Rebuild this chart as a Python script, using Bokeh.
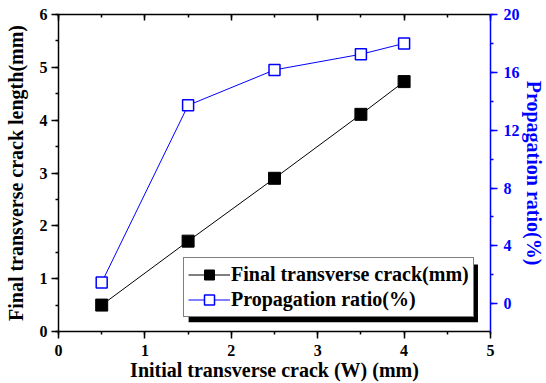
import math
from bokeh.plotting import figure
from bokeh.models import (LinearAxis, Range1d, SingleIntervalTicker, Legend,
                          LegendItem, BoxAnnotation, CustomJSTickFormatter,
                          Title)
from bokeh.embed import file_html
from bokeh.resources import INLINE

# ---- data ----
initial_crack = [0.5, 1.5, 2.5, 3.5, 4.0]
final_crack = [0.50, 1.71, 2.90, 4.11, 4.73]
prop_ratio = [1.47, 13.72, 16.17, 17.25, 18.0]

x_label = "Initial transverse crack (W) (mm)"
y_label = "Final transverse crack length(mm)"
y2_label = "Propagation ratio(%)"
s1_name = "Final transverse crack(mm)"
s2_name = "Propagation ratio(%)"

FONT = "Liberation Serif"
BLUE = "#0000ff"

p = figure(width=546, height=383, x_range=Range1d(0, 5), y_range=Range1d(0, 6),
           output_backend="svg", toolbar_location=None,
           min_border_left=58, min_border_right=56, min_border_top=14,
           min_border_bottom=52)
p.extra_y_ranges = {"right": Range1d(-1.92, 20)}
p.grid.visible = False
p.outline_line_color = None
p.background_fill_color = "white"
p.border_fill_color = "white"


def style_axis(ax, color="black"):
    ax.axis_line_color = color
    ax.axis_line_width = 1.5
    ax.major_tick_line_color = color
    ax.minor_tick_line_color = color
    ax.major_tick_line_width = 1.5
    ax.minor_tick_line_width = 1.5
    ax.major_label_text_font = FONT
    ax.major_label_text_font_style = "bold"
    ax.major_label_text_font_size = "16px"
    ax.major_label_text_color = color
    ax.axis_label_text_font = FONT
    ax.axis_label_text_font_style = "bold"
    ax.axis_label_text_font_size = "20px"
    ax.axis_label_text_color = color
    ax.major_tick_out = 7
    ax.major_tick_in = 0
    ax.minor_tick_out = 3
    ax.minor_tick_in = 0


# bottom axis
xa = p.xaxis[0]
xa.ticker = SingleIntervalTicker(interval=1, num_minor_ticks=2)
style_axis(xa)
xa.axis_label = x_label
xa.major_label_standoff = 6
xa.axis_label_standoff = 0

# left axis
ya = p.yaxis[0]
ya.ticker = SingleIntervalTicker(interval=1, num_minor_ticks=2)
style_axis(ya)
ya.axis_label = y_label
ya.major_label_standoff = 4
ya.axis_label_standoff = 10

# right axis (title drawn as a side Title so that it reads top-to-bottom)
ra = LinearAxis(y_range_name="right",
                ticker=SingleIntervalTicker(interval=4, num_minor_ticks=2))
style_axis(ra, BLUE)
ra.major_label_standoff = 6
p.add_layout(ra, "right")

right_title = Title(text=y2_label, align="center", standoff=0,
                    text_font=FONT, text_font_style="bold",
                    text_font_size="20px", text_color=BLUE)
p.add_layout(right_title, "right")

# top axis (mirror, ticks inside, no labels)
ta = LinearAxis(ticker=SingleIntervalTicker(interval=1, num_minor_ticks=2),
                formatter=CustomJSTickFormatter(code="return ''"))
style_axis(ta)
ta.major_tick_out = 0
ta.major_tick_in = 6
ta.minor_tick_out = 0
ta.minor_tick_in = 3
ta.major_label_standoff = 0
p.add_layout(ta, "above")

# series
l1 = p.line(initial_crack, final_crack, line_color="black", line_width=1)
m1 = p.scatter(initial_crack, final_crack, marker="square", size=12,
               fill_color="black", line_color="black")
l2 = p.line(initial_crack, prop_ratio, line_color=BLUE, line_width=1,
            y_range_name="right")
m2 = p.scatter(initial_crack, prop_ratio, marker="square", size=11,
               fill_color="white", line_color=BLUE, line_width=1.5,
               y_range_name="right")

# legend shadow
shadow = BoxAnnotation(left=1.506, right=4.855, bottom=0.175, top=1.268,
                       fill_color="black", fill_alpha=1.0, line_color=None)
p.add_layout(shadow)

legend = Legend(items=[LegendItem(label=s1_name, renderers=[l1, m1]),
                       LegendItem(label=s2_name, renderers=[l2, m2])],
                location=(125, 14), margin=0, padding=4, spacing=0,
                glyph_width=42, glyph_height=25, label_height=25,
                label_standoff=1,
                label_text_font=FONT, label_text_font_style="bold",
                label_text_font_size="20px", label_text_color="black",
                border_line_color="black", border_line_width=1,
                background_fill_color="white", background_fill_alpha=1.0)
p.add_layout(legend, "center")

open("out.html", "w").write(file_html(p, INLINE))
